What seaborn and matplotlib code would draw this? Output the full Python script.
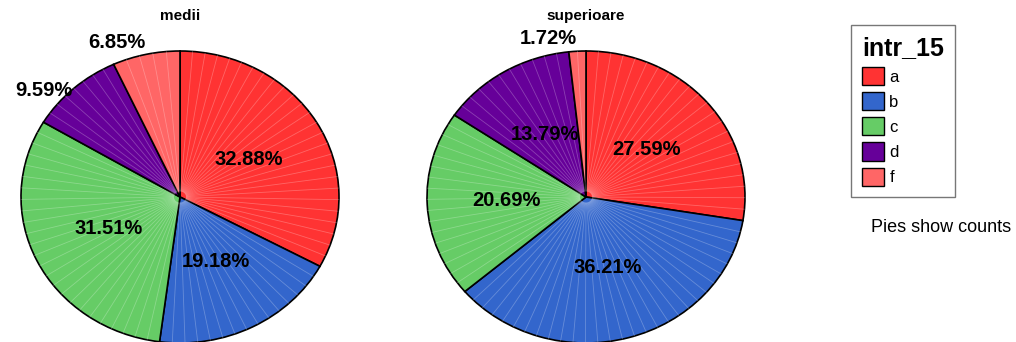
import numpy as np
import matplotlib
matplotlib.use("Agg")
import matplotlib.pyplot as plt
import seaborn as sns
from matplotlib.patches import Patch

# Counts of intr_15 answers per group
categories = ["a", "b", "c", "d", "f"]
groups = ["medii", "superioare"]
medii_counts = [24, 14, 23, 7, 5]
superioare_counts = [16, 21, 12, 8, 1]
palette = ["#FF3333", "#3366CC", "#66CC66", "#660099", "#FF6666"]

sns.set_theme(style="white")
plt.rcParams["font.family"] = ["Liberation Sans", "DejaVu Sans"]
plt.rcParams["text.color"] = "black"
plt.rcParams["legend.labelcolor"] = "black"

W, H = 1016, 342
fig = plt.figure(figsize=(W / 100, H / 100), dpi=100)
colors = sns.color_palette(palette)

RX, RY = 159, 146          # pie radii in pixels (slightly oval)
centers = [(180, 197), (586, 197)]
XHALF = 1.12


def draw_pie(counts, title, cx, cy):
    left = (cx - XHALF * RX) / W
    width = 2 * XHALF * RX / W
    ax = fig.add_axes([left, 0, width, 1])
    wedges, _ = ax.pie(counts, colors=colors, startangle=90, counterclock=False,
                       wedgeprops=dict(edgecolor="black", linewidth=1.2))
    ax.set_aspect("auto")
    ax.set_xlim(-XHALF, XHALF)
    ax.set_ylim(-(H - cy) / RY, cy / RY)
    ax.axis("off")

    total = sum(counts)
    start = 0.0
    for w, c in zip(wedges, counts):
        frac = c / total
        a0 = 90 - 360 * start
        a1 = 90 - 360 * (start + frac)
        # faint facet lines radiating through each slice
        n = max(2, int(round((a0 - a1) / 4.5)))
        for ang in np.linspace(a0, a1, n + 1)[1:-1]:
            r = np.deg2rad(ang)
            ax.plot([0.04 * np.cos(r), np.cos(r)], [0.04 * np.sin(r), np.sin(r)],
                    color="white", alpha=0.25, lw=0.6, zorder=2)
        mid = np.deg2rad(90 - 360 * (start + frac / 2))
        pct = 100 * frac
        label = f"{pct:.2f}%"
        if pct >= 10:
            ax.text(0.5 * np.cos(mid), 0.5 * np.sin(mid), label, ha="center",
                    va="center", fontsize=14.5, fontweight="bold", zorder=5)
        else:
            # small slices get their label just outside the rim
            ax.text(1.01 * np.cos(mid), 1.41 * np.sin(mid) - 0.32, label,
                    ha="right" if np.cos(mid) < 0 else "left", va="center",
                    fontsize=14.5, fontweight="bold", zorder=5)
        start += frac
    ax.text(0, (cy - 16) / RY, title, ha="center", va="center",
            fontsize=11, fontweight="bold")


for counts, title, (cx, cy) in zip([medii_counts, superioare_counts], groups, centers):
    draw_pie(counts, title, cx, cy)

handles = [Patch(facecolor=col, edgecolor="black", linewidth=1.0) for col in colors]
leg = fig.legend(handles, categories, title="intr_15", loc="upper left",
                 bbox_to_anchor=(851 / W, 1 - 25 / H), frameon=True, fancybox=False,
                 edgecolor="#555555", fontsize=12, handlelength=1.35,
                 handleheight=1.3, labelspacing=0.42, handletextpad=0.3,
                 borderpad=0.65, borderaxespad=0, alignment="left",
                 title_fontproperties={"weight": "bold", "size": 18})
leg.get_frame().set_linewidth(1.0)

fig.text(941 / W, 1 - 228 / H, "Pies show counts", ha="center", va="center",
         fontsize=13)

fig.savefig("out.png", dpi=100)
